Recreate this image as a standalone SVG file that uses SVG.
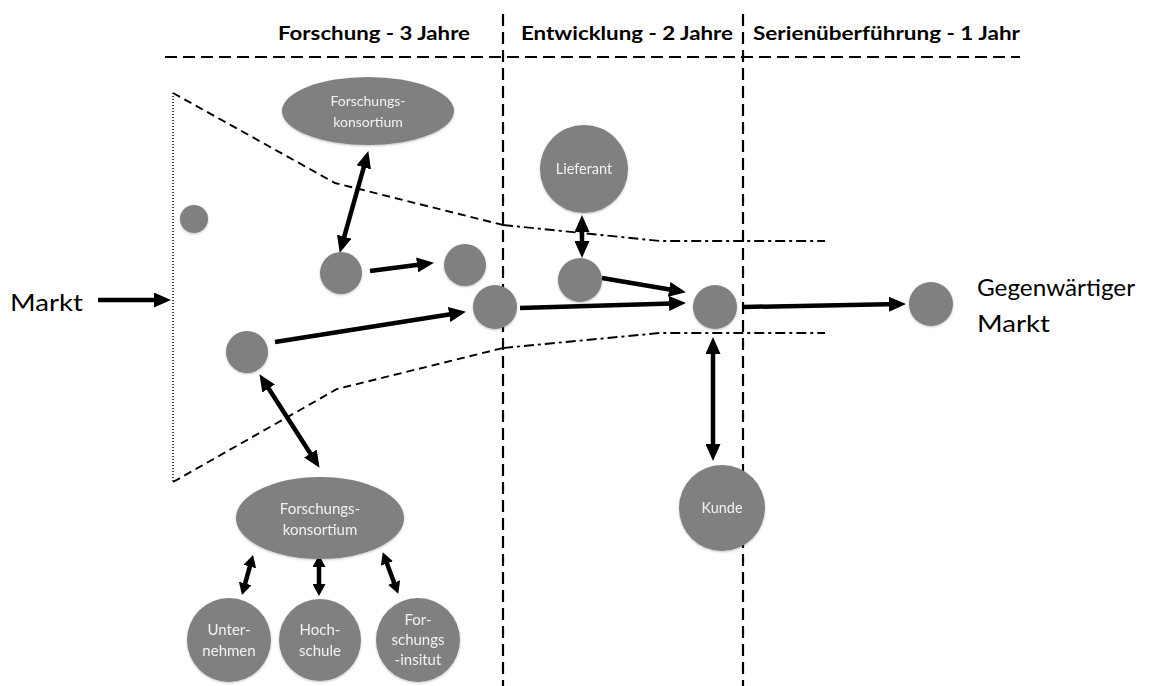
<svg xmlns="http://www.w3.org/2000/svg" width="1166" height="686" viewBox="0 0 1166 686">
<style>
.node{fill:#808080;}
.nt{fill:#f2f2f2;font-family:Lato,"Open Sans",sans-serif;text-anchor:middle;}
.hdr{font-family:Lato,"Open Sans",sans-serif;font-weight:bold;font-size:19px;fill:#000;}
.big{font-family:Lato,"Open Sans",sans-serif;font-size:24px;fill:#000;}
.sep{stroke:#000;stroke-width:2.2;stroke-dasharray:12,6;fill:none;}
.fun{stroke:#000;stroke-width:1.9;stroke-dasharray:8,5;fill:none;}
.dd{stroke:#000;stroke-width:1.9;stroke-dasharray:10,4,3,4;fill:none;}
.dot{stroke:#000;stroke-width:1.5;stroke-dasharray:1,2;fill:none;}
.a{stroke:#000;stroke-width:4.5;fill:none;marker-end:url(#ah);}
.b{stroke:#000;stroke-width:4.5;fill:none;marker-end:url(#ah);marker-start:url(#ah);}
.s{stroke:#000;stroke-width:4.5;fill:none;marker-end:url(#sh);marker-start:url(#sh);}
</style>
<defs>
<marker id="ah" markerUnits="userSpaceOnUse" markerWidth="17" markerHeight="15" refX="11" refY="7.5" orient="auto-start-reverse"><path d="M0,0 L17,7.5 L0,15 z" fill="#000"/></marker>
<marker id="sh" markerUnits="userSpaceOnUse" markerWidth="12" markerHeight="13" refX="7" refY="6.5" orient="auto-start-reverse"><path d="M0,0 L12,6.5 L0,13 z" fill="#000"/></marker>
<filter id="sh1" x="-20%" y="-20%" width="140%" height="140%"><feDropShadow dx="0" dy="1" stdDeviation="1.2" flood-color="#000" flood-opacity="0.25"/></filter>
</defs>

<g id="header">
<line class="sep" x1="165" y1="57" x2="1020" y2="57"/>
<line class="sep" x1="503" y1="14" x2="503" y2="686"/>
<line class="sep" x1="743" y1="14" x2="743" y2="686"/>
<text class="hdr" x="278" y="40" textLength="192" lengthAdjust="spacingAndGlyphs">Forschung - 3 Jahre</text>
<text class="hdr" x="521" y="40" textLength="212" lengthAdjust="spacingAndGlyphs">Entwicklung - 2 Jahre</text>
<text class="hdr" x="753" y="40" textLength="267" lengthAdjust="spacingAndGlyphs">Serienüberführung - 1 Jahr</text>
</g>

<g id="funnel">
<line class="dot" x1="173" y1="93" x2="173" y2="482"/>
<polyline class="fun" points="173,93 335,183 503,225"/>
<polyline class="dd" points="503,225 660,241 825,241"/>
<polyline class="fun" points="173,482 337,389 503,348"/>
<polyline class="dd" points="503,348 660,333 825,333"/>
</g>

<g id="connectors">
<line class="a" x1="98" y1="300" x2="165" y2="300"/>
<line class="b" x1="366.7" y1="156.8" x2="341.3" y2="247.2"/>
<line class="a" x1="370" y1="271" x2="428" y2="263.6"/>
<line class="a" x1="275" y1="342" x2="460" y2="312.8"/>
<line class="b" x1="262.7" y1="379.2" x2="316.3" y2="462.8"/>
<line class="a" x1="520" y1="308" x2="680" y2="303.2"/>
<line class="a" x1="602" y1="278" x2="680" y2="291.2"/>
<line class="b" x1="582" y1="221" x2="582" y2="252"/>
<line class="a" x1="744" y1="307" x2="900" y2="304"/>
<line class="b" x1="713" y1="343" x2="713" y2="455"/>
<line class="s" x1="251.7" y1="559.8" x2="243.3" y2="590.2"/>
<line class="s" x1="319" y1="560" x2="319" y2="591"/>
<line class="s" x1="384.5" y1="557" x2="396.5" y2="589"/>
</g>

<g id="n-konsortium-top" filter="url(#sh1)"><ellipse class="node" cx="368" cy="111" rx="86" ry="34"/>
<text class="nt" font-size="14"><tspan x="368" y="106">Forschungs-</tspan><tspan x="368" y="127">konsortium</tspan></text></g>
<g id="n-c1" filter="url(#sh1)"><circle class="node" cx="194" cy="219" r="14"/></g>
<g id="n-c2" filter="url(#sh1)"><circle class="node" cx="341" cy="273" r="21"/></g>
<g id="n-c3" filter="url(#sh1)"><circle class="node" cx="465" cy="265" r="21"/></g>
<g id="n-c4" filter="url(#sh1)"><circle class="node" cx="495" cy="307" r="22"/></g>
<g id="n-c5" filter="url(#sh1)"><circle class="node" cx="247" cy="352" r="21"/></g>
<g id="n-c6" filter="url(#sh1)"><circle class="node" cx="580" cy="280" r="22"/></g>
<g id="n-c7" filter="url(#sh1)"><circle class="node" cx="715" cy="307" r="22"/></g>
<g id="n-c8" filter="url(#sh1)"><circle class="node" cx="931" cy="304" r="22"/></g>
<g id="n-lieferant" filter="url(#sh1)"><circle class="node" cx="584" cy="169" r="44"/>
<text class="nt" font-size="14.5" x="584" y="174">Lieferant</text></g>
<g id="n-kunde" filter="url(#sh1)"><circle class="node" cx="722" cy="508" r="43"/>
<text class="nt" font-size="14.5" x="722" y="513">Kunde</text></g>
<g id="n-konsortium-bottom" filter="url(#sh1)"><ellipse class="node" cx="320" cy="518" rx="84" ry="41"/>
<text class="nt" font-size="15"><tspan x="320" y="514">Forschungs-</tspan><tspan x="320" y="535">konsortium</tspan></text></g>
<g id="n-unternehmen" filter="url(#sh1)"><circle class="node" cx="229" cy="640" r="42"/>
<text class="nt" font-size="15"><tspan x="229" y="635">Unter-</tspan><tspan x="229" y="656">nehmen</tspan></text></g>
<g id="n-hochschule" filter="url(#sh1)"><circle class="node" cx="320" cy="640" r="41"/>
<text class="nt" font-size="15"><tspan x="320" y="635">Hoch-</tspan><tspan x="320" y="656">schule</tspan></text></g>
<g id="n-institut" filter="url(#sh1)"><circle class="node" cx="418" cy="640" r="42"/>
<text class="nt" font-size="15"><tspan x="418" y="625">For-</tspan><tspan x="418" y="645">schungs</tspan><tspan x="418" y="665">-insitut</tspan></text></g>

<g id="labels">
<text class="big" x="10" y="311" textLength="73" lengthAdjust="spacingAndGlyphs">Markt</text>
<text class="big" x="977" y="296" textLength="158" lengthAdjust="spacingAndGlyphs">Gegenwärtiger</text>
<text class="big" x="977" y="332" textLength="73" lengthAdjust="spacingAndGlyphs">Markt</text>
</g>
</svg>
